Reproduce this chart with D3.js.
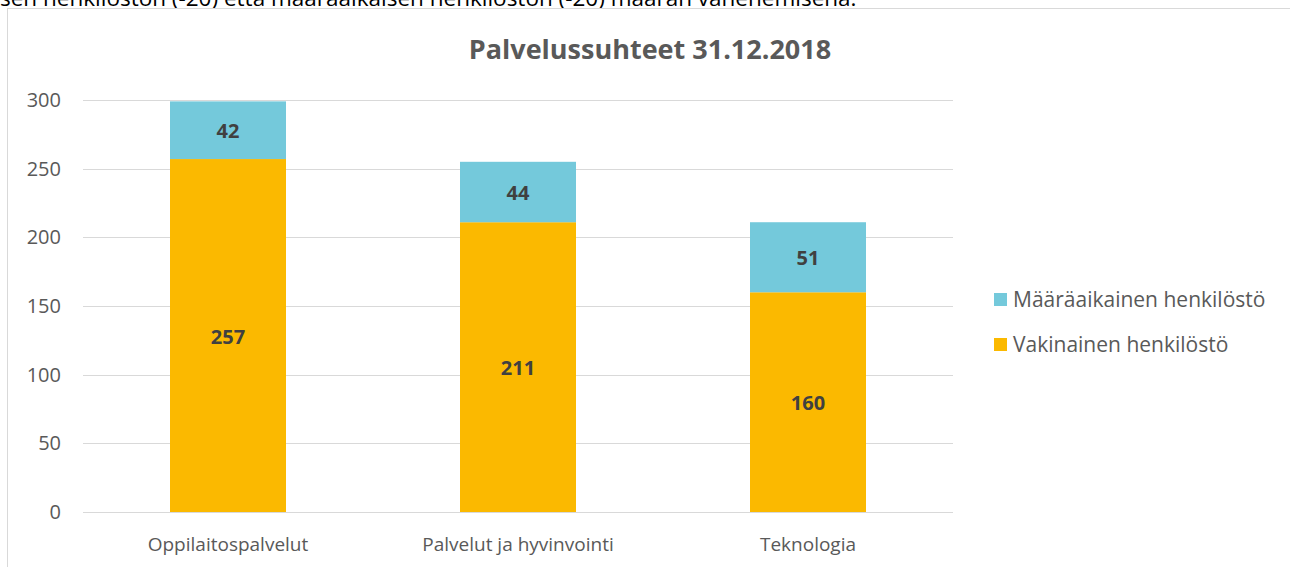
<!DOCTYPE html>
<html>
<head>
<meta charset="utf-8">
<script src="https://cdn.jsdelivr.net/npm/d3@7"></script>
<style>
  body { margin: 0; background: #fff; }
  svg { display: block; font-family: "Open Sans", sans-serif; }
</style>
</head>
<body>
<svg width="1290" height="567"></svg>
<script>
const categories = ['Oppilaitospalvelut', 'Palvelut ja hyvinvointi', 'Teknologia']
const vakinainen = [257, 211, 160]
const maaraaikainen = [42, 44, 51]
const seriesNames = ['Vakinainen henkilöstö', 'Määräaikainen henkilöstö']
const yTicks = [0, 50, 100, 150, 200, 250, 300]

const svg = d3.select('svg')
const colors = { 'Vakinainen henkilöstö': '#fbb900', 'Määräaikainen henkilöstö': '#74c9db' }

// text cut off from the page above the chart
svg.append('text')
  .attr('x', 0).attr('y', 6)
  .attr('font-size', 22.5).attr('fill', '#000')
  .text('sen henkilöstön (-20) että määräaikaisen henkilöstön (-20) määrän vähenemisenä.')

// chart frame
svg.append('rect')
  .attr('x', 7.5).attr('y', 8.5).attr('width', 1300).attr('height', 600)
  .attr('fill', '#fff').attr('stroke', '#d9d9d9')

const plotLeft = 83, plotRight = 953, plotTop = 100, plotBottom = 512

const x = d3.scaleBand().domain(categories).range([plotLeft, plotRight]).paddingInner(0.6).paddingOuter(0.3)
const y = d3.scaleLinear().domain([0, 300]).range([plotBottom, plotTop])

// gridlines
svg.append('g').selectAll('line').data(yTicks)
  .enter().append('line')
    .attr('x1', plotLeft).attr('x2', plotRight)
    .attr('y1', d => Math.round(y(d)) + 0.5).attr('y2', d => Math.round(y(d)) + 0.5)
    .attr('stroke', '#d9d9d9').attr('stroke-width', 1)

svg.append('g').selectAll('text').data(yTicks)
  .enter().append('text')
    .attr('x', 61).attr('y', d => y(d) + 7)
    .attr('text-anchor', 'end').attr('font-size', 20).attr('fill', '#595959')
    .text(d => d)

svg.append('g').selectAll('text').data(categories)
  .enter().append('text')
    .attr('x', d => x(d) + x.bandwidth() / 2).attr('y', 551)
    .attr('text-anchor', 'middle').attr('font-size', 19).attr('fill', '#595959')
    .text(d => d)

const rows = categories.map((c, i) => ({ cat: c, 'Vakinainen henkilöstö': vakinainen[i], 'Määräaikainen henkilöstö': maaraaikainen[i] }))
const stacked = d3.stack().keys(seriesNames)(rows)

stacked.forEach(s => {
  const g = svg.append('g')
  g.selectAll('rect').data(s)
    .enter().append('rect')
      .attr('x', d => x(d.data.cat)).attr('width', x.bandwidth())
      .attr('y', d => y(d[1])).attr('height', d => y(d[0]) - y(d[1]))
      .attr('fill', colors[s.key])
  g.selectAll('text').data(s)
    .enter().append('text')
      .attr('x', d => x(d.data.cat) + x.bandwidth() / 2)
      .attr('y', d => (y(d[0]) + y(d[1])) / 2 + 8)
      .attr('text-anchor', 'middle').attr('font-size', 20).attr('font-weight', 'bold').attr('fill', '#404040')
      .text(d => d[1] - d[0])
})

svg.append('text')
  .attr('x', 650).attr('y', 59)
  .attr('text-anchor', 'middle').attr('font-size', 27).attr('font-weight', 'bold').attr('fill', '#595959')
  .text('Palvelussuhteet 31.12.2018')

// legend
const legendItems = ['Määräaikainen henkilöstö', 'Vakinainen henkilöstö']
const legend = svg.append('g').selectAll('g').data(legendItems)
  .enter().append('g')
    .attr('transform', (d, i) => `translate(994, ${300 + i * 45})`)
legend.append('rect').attr('x', 0).attr('y', -7).attr('width', 13).attr('height', 13).attr('fill', d => colors[d])
legend.append('text').attr('x', 19).attr('y', 7).attr('font-size', 21).attr('fill', '#595959').text(d => d)
</script>
</body>
</html>
